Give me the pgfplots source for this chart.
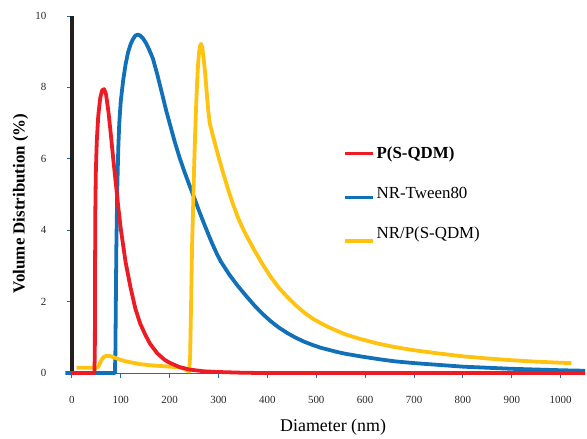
\documentclass[border=0pt]{standalone}
\usepackage{fontspec}
\setmainfont{Liberation Serif}
\usepackage{pgfplots}
\pgfplotsset{compat=1.18}
\definecolor{DlsRed}{HTML}{ED1C24}
\definecolor{DlsBlue}{HTML}{1070B8}
\definecolor{DlsYellow}{HTML}{FFC20E}
\definecolor{DlsBlack}{HTML}{231F20}

\begin{document}
\begin{tikzpicture}
\begin{axis}[
  scale only axis,
  width=514.5bp,height=358bp,
  xmin=0,xmax=1050,ymin=0,ymax=10,
  clip=false,
  axis x line*=bottom,axis y line*=left,
  x axis line style={DlsBlue,line width=0.8bp,-},
  y axis line style={DlsBlack,line width=3.8bp,-},
  xtick={0,100,...,1000},ytick={0,2,...,10},
  tick align=outside,
  major tick length=5bp,
  tick style={DlsBlue,line width=0.9bp},
  /pgf/number format/assume math mode=true,
  /pgf/number format/1000 sep={},
  tick label style={font=\fontsize{11}{13}\selectfont,text=black!85},
  xticklabel style={yshift=-15bp},
  yticklabel style={xshift=-17bp},
  xlabel={Diameter (nm)},
  ylabel={\textbf{Volume Distribution (\%)}},
  xlabel style={font=\fontsize{18}{21}\selectfont,at={(axis description cs:0.509,-0.151)},anchor=center},
  ylabel style={font=\fontsize{17}{20}\selectfont,at={(axis description cs:-0.1,0.475)},anchor=center},
  legend style={at={(axis cs:548,6.45)},anchor=north west,draw=none,fill=none,
    font=\fontsize{17}{20}\selectfont,row sep=23bp},
  legend cell align={left},
  legend image code/.code={\draw[#1] (0bp,0bp) -- (28bp,0bp);},
  line join=round,
]
% picture frame
\path (axis description cs:-0.14,1.0447) (axis description cs:1.001,-0.1816);
% NR-Tween80
\addplot[DlsBlue,line width=3.8bp,forget plot] coordinates {
  (-13,0) (88,0) (89,0.5) (90,2.0) (91,3.5) (93,5.2) (95,6.3) (97,7.0) (100,7.6)
  (105,8.2) (110,8.65) (115,8.98) (120,9.2) (125,9.35) (130,9.45) (135,9.48)
  (140,9.45) (145,9.38) (150,9.28) (155,9.15) (160,9.0) (166,8.8) (175,8.35)
  (185,7.8) (193,7.35) (200,7.0) (210,6.5) (220,6.05) (230,5.65) (240,5.28)
  (250,4.92) (260,4.55) (270,4.2) (280,3.86) (288,3.6) (297,3.33) (305,3.12)
  (322,2.76) (339,2.45) (356,2.17) (373,1.9) (390,1.66) (407,1.45) (424,1.27)
  (441,1.12) (458,0.99) (475,0.88) (492,0.79) (509,0.71) (526,0.65) (543,0.59)
  (560,0.54) (594,0.46) (628,0.39) (660,0.33) (700,0.28) (750,0.23) (800,0.18)
  (850,0.15) (900,0.12) (950,0.1) (1000,0.08) (1050,0.065)
};
% NR/P(S-QDM)
\addplot[DlsYellow,line width=3.8bp,forget plot] coordinates {
  (10,0.15) (50,0.15) (54,0.18) (58,0.3) (62,0.4) (66,0.46) (70,0.48) (76,0.48)
  (82,0.46) (90,0.42) (100,0.37) (110,0.33) (125,0.29) (140,0.25) (160,0.22)
  (180,0.2) (200,0.18) (220,0.16) (230,0.12) (236,0.07) (240,0.04) (242,0.5)
  (244,2.0) (246,3.6) (248,4.6) (250,5.7) (252,6.6) (254,7.4) (256,8.05)
  (258,8.6) (260,8.95) (262,9.15) (264.6,9.22) (267,9.1) (270,8.75) (273,8.35)
  (276,7.85) (279,7.35) (282,7.0) (290,6.57) (300,6.06) (310,5.58) (320,5.13)
  (330,4.72) (340,4.35) (348,4.1) (356,3.88) (373,3.45) (390,3.05) (407,2.69)
  (424,2.38) (441,2.13) (458,1.9) (475,1.7) (492,1.53) (509,1.4) (526,1.28)
  (543,1.18) (560,1.08) (594,0.94) (628,0.82) (660,0.73) (700,0.64) (750,0.55)
  (800,0.47) (850,0.41) (900,0.36) (950,0.32) (1000,0.29) (1022,0.28)
};
% P(S-QDM)
\addplot[DlsRed,line width=3.8bp,forget plot] coordinates {
  (0,0) (46,0) (47,0.5) (47.5,3.0) (48,4.5) (49,5.6) (51,6.5) (54,7.2) (58,7.7)
  (62,7.92) (66,7.95) (70,7.8) (75,7.3) (80,6.65) (85,5.95) (90,5.3) (95,4.65)
  (100,4.05) (110,3.1) (120,2.4) (130,1.8) (140,1.38) (150,1.08) (160,0.82)
  (175,0.55) (190,0.37) (200,0.29) (220,0.17) (240,0.1) (270,0.05) (300,0.03)
  (350,0.01) (400,0) (1050,0)
};
\addlegendimage{DlsRed,line width=3.8bp}
\addlegendentry{\textbf{P(S-QDM)}}
\addlegendimage{DlsBlue,line width=3.8bp,yshift=-4bp}
\addlegendentry{NR-Tween80}
\addlegendimage{DlsYellow,line width=3.8bp,yshift=-8bp}
\addlegendentry{NR/P(S-QDM)}
\end{axis}
\end{tikzpicture}
\end{document}
